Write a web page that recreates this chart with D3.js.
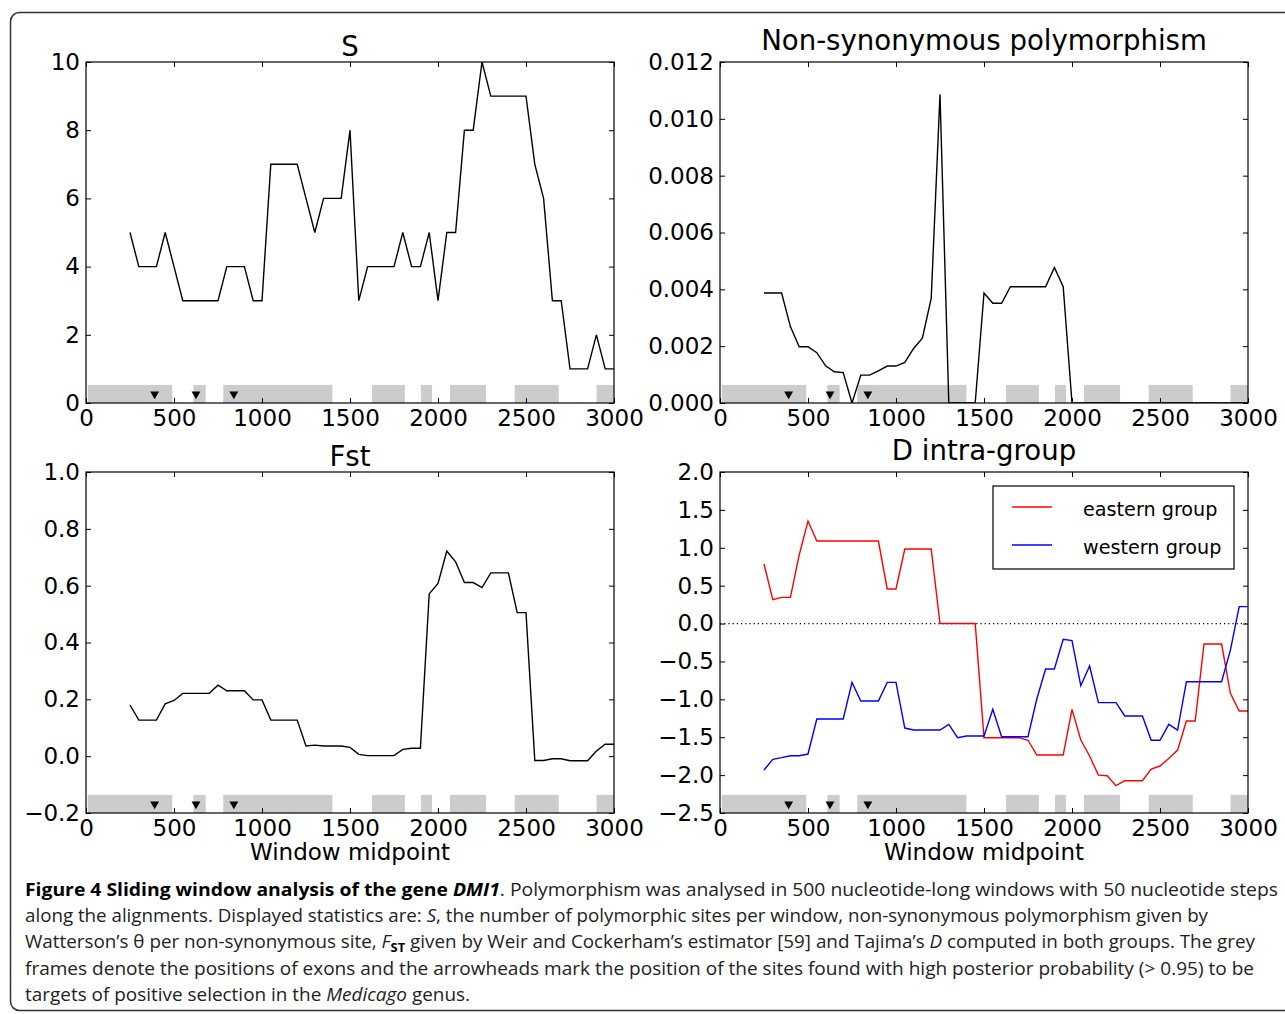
<!DOCTYPE html>
<html><head><meta charset="utf-8">
<script src="https://cdn.jsdelivr.net/npm/d3@7"></script>
<style>body{margin:0;background:#fff}svg{display:block}</style>
</head><body>
<svg id="chart" width="1285" height="1014"></svg>
<script>
// ---------------- data ----------------
const positions = [250,300,350,400,450,500,550,600,650,700,750,800,850,900,950,1000,1050,1100,1150,1200,
  1250,1300,1350,1400,1450,1500,1550,1600,1650,1700,1750,1800,1850,1900,1950,2000,2050,2100,2150,2200,
  2250,2300,2350,2400,2450,2500,2550,2600,2650,2700,2750,2800,2850,2900,2950,3000];
const sValues = [5,4,4,4,5,4,3,3,3,3, 3,4,4,4,3,3,7,7,7,7, 6,5,6,6,6,8,3,4,4,4,
  4,5,4,4,5,3,5,5,8,8, 10,9,9,9,9,9,7,6,3,3, 1,1,1,2,1,1];
const nonSynValues = [0.00387,0.00387,0.00387,0.00269,0.00198,0.00198,0.00177,0.00131,0.00110,0.00107,
  0,0.00098,0.00098,0.00113,0.00130,0.00130,0.00143,0.00192,0.00228,0.00368,
  0.01086,0,0,0,0,0.00387,0.00351,0.00351,0.00409,0.00409,
  0.00409,0.00409,0.00409,0.00477,0.00409,0,0,0,0,0,
  0,0,0,0,0,0,0,0,0,0, 0,0,0,0,0,0];
const fstValues = [0.18,0.127,0.127,0.127,0.184,0.196,0.221,0.221,0.221,0.221,
  0.25,0.23,0.23,0.23,0.198,0.198,0.127,0.127,0.127,0.127,
  0.036,0.039,0.036,0.036,0.036,0.031,0.0065,0.002,0.002,0.002,
  0.002,0.024,0.028,0.028,0.571,0.608,0.722,0.684,0.611,0.611,
  0.593,0.645,0.645,0.645,0.505,0.505,-0.015,-0.015,-0.009,-0.009,
  -0.016,-0.016,-0.016,0.018,0.042,0.042];
const dEastern = [0.786,0.315,0.346,0.346,0.905,1.353,1.089,1.089,1.089,1.089,
  1.089,1.089,1.089,1.089,0.456,0.456,0.984,0.984,0.984,0.984,
  0,0,0,0,0,-1.506,-1.506,-1.506,-1.506,-1.506,
  -1.54,-1.735,-1.735,-1.735,-1.735,-1.132,-1.537,-1.748,-2.0,-2.008,
  -2.14,-2.074,-2.074,-2.074,-1.92,-1.88,-1.78,-1.67,-1.286,-1.286,
  -0.27,-0.27,-0.27,-0.921,-1.154,-1.154];
const dWestern = [-1.933,-1.792,-1.77,-1.744,-1.744,-1.722,-1.26,-1.26,-1.26,-1.26,
  -0.776,-1.022,-1.022,-1.022,-0.776,-0.776,-1.379,-1.405,-1.405,-1.405,
  -1.405,-1.33,-1.506,-1.484,-1.484,-1.484,-1.132,-1.493,-1.493,-1.493,
  -1.493,-0.996,-0.6,-0.6,-0.209,-0.226,-0.82,-0.56,-1.044,-1.044,
  -1.044,-1.22,-1.22,-1.22,-1.54,-1.54,-1.33,-1.405,-0.767,-0.767,
  -0.767,-0.767,-0.767,-0.35,0.223,0.223];
const exonStarts = [10,610,780,1625,1903,2068,2436,2901];
const exonEnds   = [490,680,1400,1812,1966,2273,2686,3000];
const selectedSites = [390,625,840];
const xTicks = [0,500,1000,1500,2000,2500,3000];
const sTicks = [0,2,4,6,8,10];
const nonSynTicks = [0,0.002,0.004,0.006,0.008,0.010,0.012];
const fstTicks = [-0.2,0,0.2,0.4,0.6,0.8,1.0];
const dTicks = [-2.5,-2,-1.5,-1,-0.5,0,0.5,1,1.5,2];
const panelTitles = ["S","Non-synonymous polymorphism","Fst","D intra-group"];
const seriesNames = ["eastern group","western group"];
const xLabel = "Window midpoint";

// ---------------- drawing ----------------
const svg = d3.select("#chart");
const FONT = "DejaVu Sans";

// outer frame
svg.append("rect").attr("x",10.5).attr("y",12.5).attr("width",1300).attr("height",998)
  .attr("rx",9).attr("fill","none").attr("stroke","#333").attr("stroke-width",1.5);

function panel(cfg, idx){
  const W = 528, H = 341;
  const g = svg.append("g").attr("transform",`translate(${cfg.left},${cfg.top})`);
  const x = d3.scaleLinear().domain([xTicks[0], xTicks[xTicks.length-1]]).range([0,W]);
  const y = d3.scaleLinear().domain([cfg.yTicks[0], cfg.yTicks[cfg.yTicks.length-1]]).range([H,0]);
  const clipId = "clip"+idx;
  g.append("clipPath").attr("id",clipId).append("rect").attr("width",W).attr("height",H);
  const inner = g.append("g").attr("clip-path",`url(#${clipId})`);
  const y0 = cfg.yTicks[0], span = cfg.yTicks[cfg.yTicks.length-1]-y0;
  // exons
  inner.selectAll("rect.exon").data(exonStarts.map((s,i)=>[s,exonEnds[i]])).join("rect")
    .attr("class","exon")
    .attr("x",d=>x(d[0])).attr("width",d=>x(d[1])-x(d[0]))
    .attr("y",y(y0+0.053*span)).attr("height",y(y0)-y(y0+0.053*span))
    .attr("fill","#cccccc");
  // arrowheads
  inner.selectAll("path.site").data(selectedSites).join("path")
    .attr("class","site")
    .attr("d",d3.symbol(d3.symbolTriangle,34)())
    .attr("transform",d=>`translate(${x(d)},${y(y0+0.026*span)}) rotate(180)`)
    .attr("fill","#000");
  if (cfg.zeroLine){
    inner.append("line").attr("x1",0).attr("x2",W).attr("y1",y(0)).attr("y2",y(0))
      .attr("stroke","#000").attr("stroke-width",1.2).attr("stroke-dasharray","1.2,3");
  }
  const line = d3.line().x((d,i)=>x(positions[i])).y(d=>y(d));
  cfg.series.forEach(s=>{
    inner.append("path").datum(s.values).attr("d",line)
      .attr("fill","none").attr("stroke",s.color).attr("stroke-width",1.4)
      .attr("stroke-linejoin","miter");
  });
  // axes
  const fmt = cfg.fmt;
  const axB = g.append("g").attr("transform",`translate(0,${H})`)
    .call(d3.axisBottom(x).tickValues(xTicks).tickSizeInner(-5).tickSizeOuter(0).tickPadding(7).tickFormat(d3.format("d")));
  const axT = g.append("g")
    .call(d3.axisTop(x).tickValues(xTicks).tickSizeInner(-5).tickSizeOuter(0).tickFormat(""));
  const axL = g.append("g")
    .call(d3.axisLeft(y).tickValues(cfg.yTicks).tickSizeInner(-5).tickSizeOuter(0).tickPadding(6).tickFormat(fmt));
  const axR = g.append("g").attr("transform",`translate(${W},0)`)
    .call(d3.axisRight(y).tickValues(cfg.yTicks).tickSizeInner(-5).tickSizeOuter(0).tickFormat(""));
  [axB,axT,axL,axR].forEach(a=>{
    a.select(".domain").remove();
    a.selectAll("line").attr("stroke","#000").attr("stroke-width",1);
    a.selectAll("text").attr("font-family",FONT).attr("font-size",23).attr("fill","#000");
  });
  g.append("rect").attr("width",W).attr("height",H).attr("fill","none")
    .attr("stroke","#000").attr("stroke-width",1.2);
  // title
  g.append("text").attr("x",W/2).attr("y",cfg.titleY).attr("text-anchor","middle")
    .attr("font-family",FONT).attr("font-size",27.6).attr("fill","#000").text(cfg.title);
  if (cfg.xlabel){
    g.append("text").attr("x",W/2).attr("y",H+47).attr("text-anchor","middle")
      .attr("font-family",FONT).attr("font-size",23).attr("fill","#000").text(xLabel);
  }
  if (cfg.legend){
    const lg = g.append("g").attr("transform",`translate(${993-cfg.left},${486-cfg.top})`);
    lg.append("rect").attr("width",241).attr("height",83).attr("fill","#fff")
      .attr("stroke","#000").attr("stroke-width",1.2);
    cfg.series.forEach((s,i)=>{
      const yy = 21 + i*38;
      lg.append("line").attr("x1",19).attr("x2",59).attr("y1",yy).attr("y2",yy)
        .attr("stroke",s.color).attr("stroke-width",1.4);
      lg.append("text").attr("x",90).attr("y",yy+9).attr("font-family",FONT)
        .attr("font-size",19.2).attr("fill","#000").text(s.name);
    });
  }
}

const fmt3 = d3.format(".3f"), fmt1 = d3.format(".1f"), fmtD = d3.format("d");
panel({left:86, top:62, yTicks:sTicks, fmt:fmtD, title:panelTitles[0], titleY:-6,
  series:[{values:sValues,color:"#000"}]}, 0);
panel({left:720, top:62, yTicks:nonSynTicks, fmt:fmt3, title:panelTitles[1], titleY:-12,
  series:[{values:nonSynValues,color:"#000"}]}, 1);
panel({left:86, top:472, yTicks:fstTicks, fmt:fmt1, title:panelTitles[2], titleY:-6, xlabel:true,
  series:[{values:fstValues,color:"#000"}]}, 2);
panel({left:720, top:472, yTicks:dTicks, fmt:fmt1, title:panelTitles[3], titleY:-12, xlabel:true,
  zeroLine:true, legend:true,
  series:[{values:dEastern,color:"#ff0000",name:seriesNames[0]},{values:dWestern,color:"#0000ff",name:seriesNames[1]}]}, 3);

// ---------------- caption ----------------
const captionLines = [
  [["Figure 4 Sliding window analysis of the gene ","b"],["DMI1","bi"],[". Polymorphism was analysed in 500 nucleotide-long windows with 50 nucleotide steps",""]],
  [["along the alignments. Displayed statistics are: ",""],["S","i"],[", the number of polymorphic sites per window, non-synonymous polymorphism given by",""]],
  [["Watterson’s ",""],["θ",""],[" per non-synonymous site, ",""],["F","i"],["ST","sub"],[" given by Weir and Cockerham’s estimator [59] and Tajima’s ",""],["D","i"],[" computed in both groups. The grey",""]],
  [["frames denote the positions of exons and the arrowheads mark the position of the sites found with high posterior probability (> 0.95) to be",""]],
  [["targets of positive selection in the ",""],["Medicago","i"],[" genus.",""]]
];
const captionEnds = [1278,1208,1255,1254,470];
captionLines.forEach((segs,li)=>{
  const t = svg.append("text").attr("x",25).attr("y",896+li*26.2)
    .attr("font-family","Open Sans").attr("font-size",17.5).attr("fill","#222")
    .attr("textLength",captionEnds[li]-25).attr("lengthAdjust","spacingAndGlyphs");
  segs.forEach(([txt,st],si)=>{
    const ts = t.append("tspan").text(txt);
    if (st.includes("b")) ts.attr("font-weight","bold").attr("fill","#000");
    if (st.includes("i")) ts.attr("font-style","italic");
    if (st==="sub") ts.attr("font-size",12).attr("dy",4);
    if (si>0 && segs[si-1][1]==="sub") ts.attr("dy",-4);
  });
});
</script>
</body></html>
